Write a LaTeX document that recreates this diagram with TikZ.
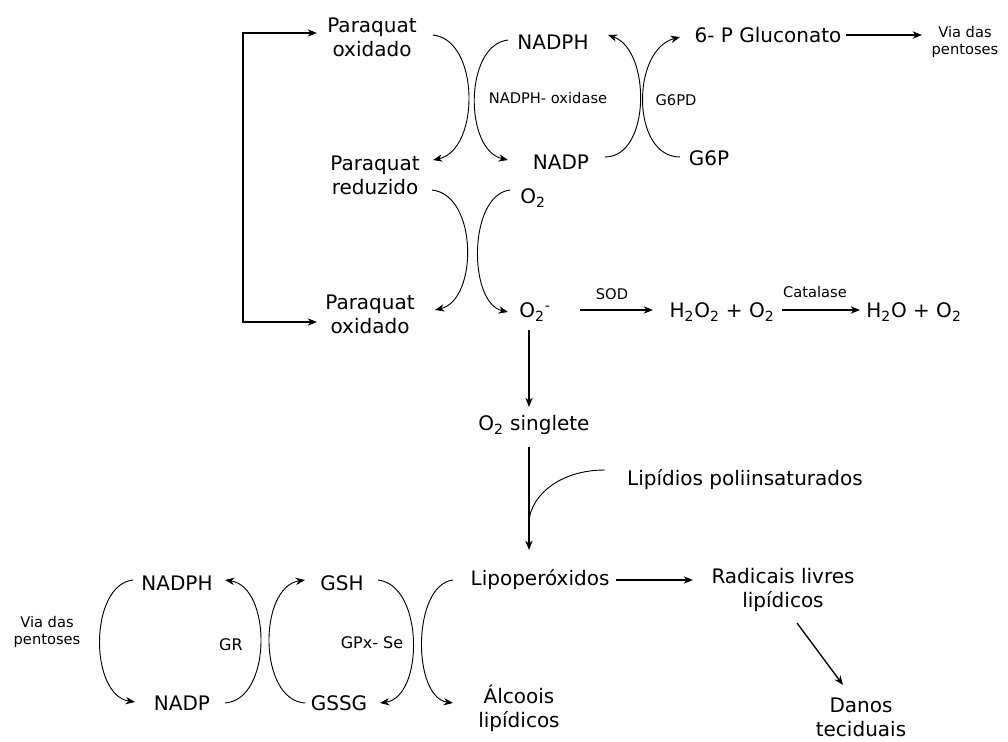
\documentclass[tikz,border=0pt]{standalone}
\usepackage{fontspec}
\setmainfont{DejaVu Sans}
\usepackage{tikz}
\usetikzlibrary{arrows.meta}
\usetikzlibrary{calc}

\newcommand{\bigtxt}{\fontsize{15}{18}\selectfont}
\newcommand{\smalltxt}{\fontsize{11}{13}\selectfont}
\newcommand{\midtxt}{\fontsize{12}{14}\selectfont}

\begin{document}
\begin{tikzpicture}[x=0.75pt,y=-0.75pt,>={Stealth[length=7pt,width=5.5pt]},
                    met/.style={font=\bigtxt,align=center,inner sep=2pt},
                    enz/.style={font=\smalltxt,align=center,inner sep=1pt},
                    turn/.style={->,line width=0.7pt},
                    flow/.style={->,line width=1pt}]
  \useasboundingbox (0,0) rectangle (1008,742);

  % paraquat cycle
  \node[met] (pqoxA) at (372,37) {Paraquat\\oxidado};
  \node[met] (pqred) at (375,175) {Paraquat\\reduzido};
  \node[met] (pqoxB) at (370,314) {Paraquat\\oxidado};
  \node[met] (nadphA) at (553,42) {NADPH};
  \node[met] (nadpA) at (561,162) {NADP};
  \node[met] (oxA) at (533,198) {O\textsubscript{2}};
  \node[met] (supox) at (535,312) {O\textsubscript{2}\textsuperscript{-}};
  \node[enz] (nadphox) at (548,98) {NADPH- oxidase};

  % pentoses
  \node[met] (gluc) at (768,35) {6- P Gluconato};
  \node[enz] (pentA) at (965,42) {Via das\\pentoses};
  \node[met] (g6p) at (709,158) {G6P};
  \node[enz] (g6pd) at (676,100) {G6PD};

  % dismutation
  \node[met] (h2o2) at (722,312) {H\textsubscript{2}O\textsubscript{2} + O\textsubscript{2}};
  \node[met] (h2o) at (914,312) {H\textsubscript{2}O + O\textsubscript{2}};
  \node[enz] (sod) at (612,294) {SOD};
  \node[enz] (catal) at (815,292) {Catalase};

  % lipids
  \node[met] (singlet) at (534,425) {O\textsubscript{2} singlete};
  \node[met] (lipoli) at (745,480) {Lipídios poliinsaturados};
  \node[met] (lipo) at (540,580) {Lipoperóxidos};
  \node[met] (radic) at (783,590) {Radicais livres\\lipídicos};
  \node[met] (danos) at (861,717) {Danos\\teciduais};
  \node[met] (alc) at (519,708) {Álcoois\\lipídicos};
  \coordinate (merge) at (529,520);

  % glutathione
  \node[met] (gsh) at (342,583) {GSH};
  \node[met] (gssg) at (339,703) {GSSG};
  \node[met] (nadphB) at (177,583) {NADPH};
  \node[met] (nadpB) at (182,703) {NADP};
  \node[enz] (pentB) at (47,632) {Via das\\pentoses};
  \node[enz,font=\midtxt] (gr) at (231,645) {GR};
  \node[enz,font=\midtxt] (gpx) at (372,643) {GPx- Se};

  \draw[<->,line width=1pt] ($(pqoxA)+(-55,-4)$) -- ++(-74,0) |- ($(pqoxB)+(-53,8)$);

  \draw[turn] ($(pqoxA)+(61,-2)$) .. controls +(47,5) and +(47,-10) .. ($(pqred)+(58,-15)$);
  \draw[turn] ($(nadphA)+(-45,-2)$) .. controls +(-44,5) and +(-44,-10) .. ($(nadpA)+(-53,-2)$);
  \draw[turn] ($(nadpA)+(44,-5)$) .. controls +(46,0) and +(43,15) .. ($(nadphA)+(55,-7)$);
  \draw[turn] ($(g6p)+(-29,-1)$) .. controls +(-49,0) and +(-49,13) .. ($(gluc)+(-88,2)$);
  \draw[turn] ($(pqred)+(57,15)$) .. controls +(46,5) and +(43,-10) .. ($(pqoxB)+(65,-4)$);
  \draw[turn] ($(oxA)+(-23,-8)$) .. controls +(-42,5) and +(-40,-9) .. ($(supox)+(-27,0)$);

  \draw[flow] ($(gluc)+(78,0)$) -- ($(pentA)+(-43,-7)$);
  \draw[flow] ($(supox)+(45,-2)$) -- ($(h2o2)+(-69,-2)$);
  \draw[flow] ($(h2o2)+(60,-2)$) -- ($(h2o)+(-54,-2)$);
  \draw[flow] ($(supox)+(-6,18)$) -- ($(singlet)+(-5,-18)$);
  \draw[flow] ($(singlet)+(-5,22)$) -- ($(lipo)+(-11,-30)$);
  \draw[line width=0.7pt] ($(lipoli)+(-140,-10)$) .. controls +(-45,0) and +(3,-25) .. (merge);
  \draw[flow] ($(lipo)+(76,0)$) -- ($(radic)+(-90,-10)$);
  \draw[flow] ($(radic)+(14,33)$) -- ($(danos)+(-18,-32)$);

  \draw[turn] ($(nadphB)+(-44,-3)$) .. controls +(-44,5) and +(-46,-7) .. ($(nadpB)+(-47,-1)$);
  \draw[turn] ($(nadpB)+(43,0)$) .. controls +(47,-3) and +(47,7) .. ($(nadphB)+(48,-3)$);
  \draw[turn] ($(gssg)+(-34,0)$) .. controls +(-47,-3) and +(-47,7) .. ($(gsh)+(-37,-3)$);
  \draw[turn] ($(gsh)+(36,-3)$) .. controls +(46,5) and +(44,-6) .. ($(gssg)+(41,0)$);
  \draw[turn] ($(lipo)+(-87,0)$) .. controls +(-41,5) and +(-41,-6) .. ($(alc)+(-66,-5)$);
\end{tikzpicture}
\end{document}
